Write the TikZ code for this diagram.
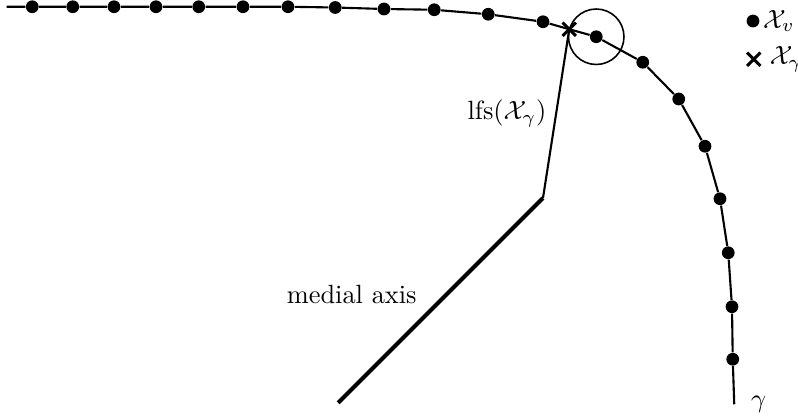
\documentclass[tikz,border=0pt]{standalone}
\usepackage{amsmath, amssymb}
\usetikzlibrary{positioning, shapes.misc}

\begin{document}
\begin{tikzpicture}[
    dot/.style={circle, fill, inner sep=0pt, minimum size=1.7mm},
    xmark/.style={cross out, draw, line width=1.1pt, inner sep=0pt, minimum size=1.4mm},
    curve/.style={thick}]
    \useasboundingbox (0,0) rectangle (10.64,5.56);

    % Sample points on gamma
    \coordinate (p0) at (0.09,5.47);
    \node[dot] (p1) at (0.43,5.47) {};
    \node[dot] (p2) at (0.97,5.47) {};
    \node[dot] (p3) at (1.52,5.47) {};
    \node[dot] (p4) at (2.08,5.47) {};
    \node[dot] (p5) at (2.65,5.47) {};
    \node[dot] (p6) at (3.24,5.47) {};
    \node[dot] (p7) at (3.84,5.47) {};
    \node[dot] (p8) at (4.47,5.46) {};
    \node[dot] (p9) at (5.12,5.44) {};
    \node[dot] (p10) at (5.79,5.43) {};
    \node[dot] (p11) at (6.51,5.37) {};
    \node[dot] (p12) at (7.24,5.27) {};
    \node[xmark] (xg) at (7.59,5.17) {};
    \node[dot] (p13) at (7.95,5.07) {};
    \node[dot] (p14) at (8.57,4.73) {};
    \node[dot] (p15) at (9.05,4.24) {};
    \node[dot] (p16) at (9.40,3.61) {};
    \node[dot] (p17) at (9.60,2.91) {};
    \node[dot] (p18) at (9.71,2.19) {};
    \node[dot] (p19) at (9.76,1.47) {};
    \node[dot] (p20) at (9.77,0.77) {};
    \coordinate (p21) at (9.79,0.17);

    % The curve
    \draw[curve] (p0) -- (p1) -- (p2) -- (p3) -- (p4) -- (p5) -- (p6) -- (p7)
        -- (p8) -- (p9) -- (p10) -- (p11) -- (p12) -- (xg.center) -- (p13)
        -- (p14) -- (p15) -- (p16) -- (p17) -- (p18) -- (p19) -- (p20) -- (p21);
    \node[right=1mm of p21] (gam) {$\gamma$};

    % Ball round the sample
    \draw[semithick] (p13.center) circle (0.37);

    % Medial axis and lfs
    \coordinate (ma1) at (7.24,2.92);
    \coordinate (ma2) at (4.51,0.19);
    \draw[line width=1.6pt] (ma1) -- (ma2);
    \node (malabel) at (4.69,1.63) {medial axis};
    \draw[thick] (xg.center) -- node[left] (lfs) {$\mathrm{lfs}(\mathcal{X}_\gamma)$} (ma1);

    % Legend
    \node[dot] (legv) at (10.04,5.28) {};
    \node[right=-0.8mm of legv] (legvtext) {$\mathcal{X}_v$};
    \node[xmark] (legg) at (10.05,4.77) {};
    \node[right=0mm of legg] (leggtext) {$\mathcal{X}_\gamma$};
\end{tikzpicture}
\end{document}
